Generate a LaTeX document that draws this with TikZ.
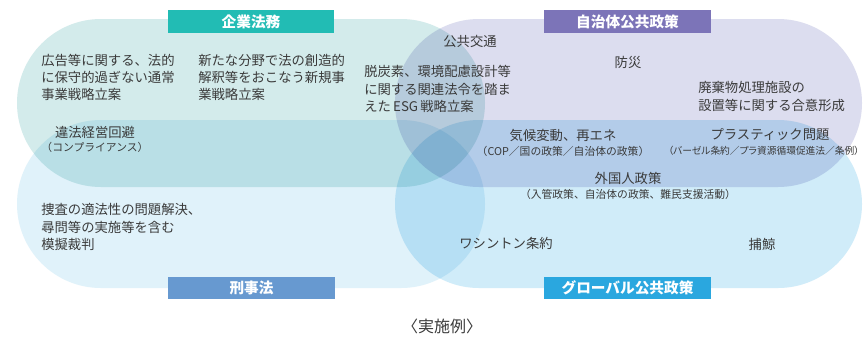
\documentclass[tikz,border=0pt]{standalone}
\usepackage{fontspec}
\setmainfont{Noto Sans CJK JP}
\newfontfamily\paltfont{Noto Sans CJK JP}[RawFeature=+palt]
\usepackage{tikz}

\begin{document}
\begin{tikzpicture}[x=0.75pt,y=0.75pt,yscale=-1,xscale=1,
	area/.style={draw=none,rounded corners=63pt},
	titlebox/.style={inner sep=0pt,minimum width=125pt,minimum height=17pt,text={rgb, 255:red, 255; green, 255; blue, 255 },font=\fontsize{11pt}{13pt}\selectfont\bfseries},
	txt/.style={inner sep=0.75pt,align=left,text={rgb, 255:red, 58; green, 58; blue, 58 },font=\fontsize{10pt}{13pt}\selectfont},
	note/.style={txt,font=\fontsize{8.1pt}{10pt}\selectfont}]
%uncomment if require: \path (0,343); %set diagram left start at 0, and has height of 343
\useasboundingbox (0,0) rectangle (866,343);
\fill [white] (0,0) rectangle (866,343);

\begin{scope}[blend group=multiply]
%Shape: Rounded Rect [id:kigyo area]
\fill [area,fill={rgb, 255:red, 211; green, 235; blue, 235 }] (17,19) rectangle (485,187);
%Shape: Rounded Rect [id:jichitai area]
\fill [area,fill={rgb, 255:red, 220; green, 221; blue, 239 }] (395,19) rectangle (862,187);
%Shape: Rounded Rect [id:keiji area]
\fill [area,fill={rgb, 255:red, 224; green, 242; blue, 250 }] (17,120) rectangle (485,288);
%Shape: Rounded Rect [id:global area]
\fill [area,fill={rgb, 255:red, 208; green, 236; blue, 249 }] (395,120) rectangle (862,288);
\end{scope}

% Title Node
\draw (251,21.5) node (kigyo) [titlebox,fill={rgb, 255:red, 34; green, 188; blue, 180 }] {企業法務};
% Title Node
\draw (627.5,21.5) node (jichitai) [titlebox,fill={rgb, 255:red, 124; green, 116; blue, 184 }] {自治体公共政策};
% Title Node
\draw (251.5,288) node (keiji) [titlebox,fill={rgb, 255:red, 103; green, 153; blue, 208 }] {刑事法};
% Title Node
\draw (627.5,288) node (global) [titlebox,fill={rgb, 255:red, 42; green, 167; blue, 223 }] {グローバル公共政策};

% Text Node
\draw (40,77.5) node (koukoku) [anchor=west][txt] {広告等に関する、法的\\に保守的過ぎない通常\\事業戦略立案};
% Text Node
\draw (197,77.5) node (shinki) [anchor=west][txt] {新たな分野で法の創造的\\解釈等をおこなう新規事\\業戦略立案};
% Text Node
\draw (363,89) node (esg) [anchor=west][txt] {脱炭素、環境配慮設計等\\に関する関連法令を踏ま\\えた\,ESG\,戦略立案};
% Text Node
\draw (470,41) node (koutsu) [txt] {公共交通};
% Text Node
\draw (628,62) node (bousai) [txt] {防災};
% Text Node
\draw (697,96.5) node (haiki) [anchor=west][txt] {廃棄物処理施設の\\設置等に関する合意形成};
% Text Node
\draw (95,132) node (ihou) [txt] {違法経営回避};
\draw (95,147) node (comp) [note] {（コンプライアンス）};
% Text Node
\draw (563,135) node (kikou) [txt] {気候変動、再エネ};
\draw (563,151) node (cop) [note] {（COP／国の政策／自治体の政策）};
% Text Node
\draw (770,135) node (plastic) [txt] {プラスティック問題};
\draw (667,151) node (basel) [anchor=west][note,font=\fontsize{7.3pt}{10pt}\paltfont] {（バーゼル条約／プラ資源循環促進法／条例）};
% Text Node
\draw (628,178) node (gaikoku) [txt] {外国人政策};
\draw (628,194) node (nyukan) [note] {（入管政策、自治体の政策、難民支援活動）};
% Text Node
\draw (40,227) node (mogi) [anchor=west][txt] {捜査の適法性の問題解決、\\尋問等の実施等を含む\\模擬裁判};
% Text Node
\draw (506,243) node (washington) [txt] {ワシントン条約};
% Text Node
\draw (762,244) node (hogei) [txt] {捕鯨};
% Text Node
\draw (442,326) node (jisshi) [txt,font=\fontsize{12pt}{14pt}\selectfont] {〈実施例〉};

\end{tikzpicture}
\end{document}
